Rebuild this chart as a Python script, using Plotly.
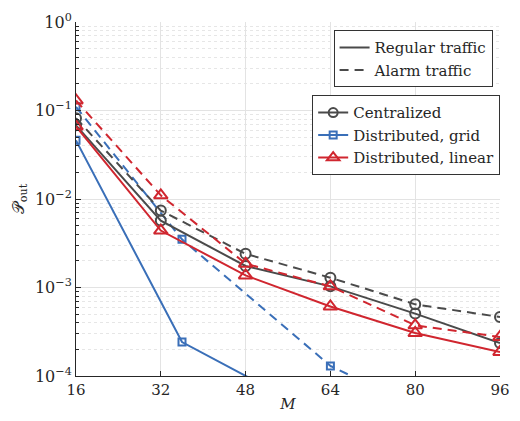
import plotly.graph_objects as go

M_lin = [16, 32, 48, 64, 80, 96]
M_grid = [16, 36, 64, 100]

cent_regular = [0.068, 5.7e-3, 1.75e-3, 1.03e-3, 5.07e-4, 2.36e-4]
cent_alarm = [0.082, 7.4e-3, 2.4e-3, 1.29e-3, 6.45e-4, 4.64e-4]
grid_regular = [0.046, 2.42e-4, 3.1e-5, 1.0e-6]
grid_alarm = [0.11, 3.5e-3, 1.3e-4, 1.2e-5]
lin_regular = [0.066, 4.4e-3, 1.37e-3, 6.1e-4, 3.06e-4, 1.87e-4]
lin_alarm = [0.13, 0.011, 1.86e-3, 1.03e-3, 3.74e-4, 2.76e-4]

x_ticks = [16, 32, 48, 64, 80, 96]
y_tickvals = [1e-4, 1e-3, 1e-2, 1e-1, 1]
y_ticktext = ["10<sup>\u22124</sup>", "10<sup>\u22123</sup>", "10<sup>\u22122</sup>",
              "10<sup>\u22121</sup>", "10<sup>0</sup>"]

GRAY = "#4a4a4a"
BLUE = "#3a6fb8"
RED = "#d0262f"
DASH = "9px,6px"
FONT = "'DejaVu Serif', 'Liberation Serif', serif"
FS = 15

fig = go.Figure()

def add(x, y, color, symbol, size, dash):
    fig.add_trace(go.Scatter(
        x=x, y=y, mode="lines+markers", showlegend=False,
        line=dict(color=color, width=2, dash=dash),
        marker=dict(symbol=symbol, size=size, color=color,
                    line=dict(color=color, width=2)),
        cliponaxis=True))

add(M_grid, grid_alarm, BLUE, "square-open", 7, DASH)
add(M_grid, grid_regular, BLUE, "square-open", 7, "solid")
add(M_lin, cent_alarm, GRAY, "circle-open", 10, DASH)
add(M_lin, cent_regular, GRAY, "circle-open", 10, "solid")
add(M_lin, lin_alarm, RED, "triangle-up-open", 12, DASH)
add(M_lin, lin_regular, RED, "triangle-up-open", 12, "solid")

# legend 1: traffic type
fig.add_trace(go.Scatter(x=[None], y=[None], mode="lines", name="Regular traffic",
                         line=dict(color=GRAY, width=2), legend="legend"))
fig.add_trace(go.Scatter(x=[None], y=[None], mode="lines", name="Alarm traffic",
                         line=dict(color=GRAY, width=2, dash=DASH), legend="legend"))
# legend 2: schemes
for name, color, sym, sz in [("Centralized", GRAY, "circle-open", 9),
                             ("Distributed, grid", BLUE, "square-open", 7),
                             ("Distributed, linear", RED, "triangle-up-open", 11)]:
    fig.add_trace(go.Scatter(x=[None], y=[None], mode="lines+markers", name=name,
                             line=dict(color=color, width=2),
                             marker=dict(symbol=sym, size=sz, color=color,
                                         line=dict(color=color, width=2)),
                             legend="legend2"))

fig.update_layout(
    width=520, height=421,
    margin=dict(l=76, r=10, t=22, b=45),
    plot_bgcolor="white", paper_bgcolor="white",
    font=dict(family=FONT, size=FS, color="#262626"),
    legend=dict(x=0.795, y=0.977, xanchor="center", yanchor="top",
                bgcolor="white", bordercolor="#333333", borderwidth=1,
                font=dict(family=FONT, size=FS), itemwidth=30, tracegroupgap=0),
    legend2=dict(x=0.557, y=0.793, xanchor="left", yanchor="top",
                 bgcolor="white", bordercolor="#333333", borderwidth=1,
                 font=dict(family=FONT, size=FS), itemwidth=30, tracegroupgap=0),
)

fig.update_xaxes(
    range=[16, 96], tickvals=x_ticks, ticktext=[str(v) for v in x_ticks],
    showgrid=True, gridcolor="#e3e3e3", gridwidth=1,
    showline=True, linecolor="#262626", linewidth=1,
    ticks="inside", ticklen=5, tickcolor="#262626",
    tickfont=dict(family=FONT, size=FS),
    zeroline=False, title=dict(text="<i>M</i>", standoff=0, font=dict(family=FONT, size=FS)),
)
fig.update_yaxes(
    type="log", range=[-4, 0], tickvals=y_tickvals, ticktext=y_ticktext,
    showgrid=True, gridcolor="#e3e3e3", gridwidth=1,
    showline=True, linecolor="#262626", linewidth=1,
    ticks="inside", ticklen=5, tickcolor="#262626",
    tickfont=dict(family=FONT, size=16),
    minor=dict(showgrid=True, gridcolor="#e6e6e6", griddash="dot",
               ticks="inside", ticklen=3, tickcolor="#262626", dtick="D1"),
    zeroline=False, title=dict(text="\U0001D4AB<sub>out</sub>", standoff=6,
                               font=dict(family=FONT, size=16)),
)

fig.write_html("out.html",
               config={"displayModeBar": False},
               post_script="document.body.style.margin='0';document.body.style.overflow='hidden';")
